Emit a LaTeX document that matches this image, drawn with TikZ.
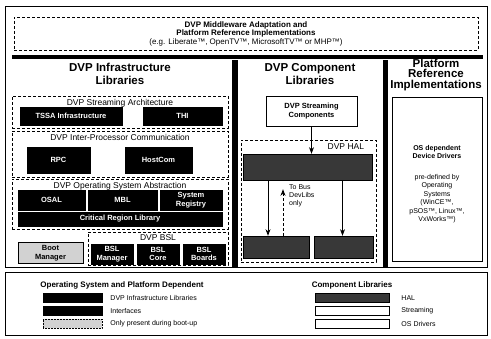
\documentclass[tikz,border=0pt]{standalone}
\usepackage{fontspec}
\setsansfont{Liberation Sans}
\usepackage{xcolor}
\definecolor{halgray}{HTML}{383838}
\definecolor{bootgray}{HTML}{D2D2D2}
\usepackage{tikz}
\usetikzlibrary{arrows.meta, positioning, calc}

\begin{document}
\begin{tikzpicture}[>=Stealth, x=1pt, y=-1pt,
  frame/.style={draw, line width=1pt, inner sep=0pt},
  group/.style={draw, densely dashed, line width=0.5pt, inner sep=0pt},
  infra/.style={draw, fill=black, text=white, inner sep=0pt, align=center,
        font=\sffamily\bfseries\fontsize{7.5}{8.5}\selectfont},
  halpart/.style={draw, fill=halgray, inner sep=0pt},
  bar/.style={fill=black, inner sep=0pt},
  coltitle/.style={align=center, inner sep=0pt,
        font=\sffamily\bfseries\fontsize{11.5}{13}\selectfont},
  grplabel/.style={inner sep=0pt, font=\sffamily\fontsize{8.5}{9}\selectfont},
  keybox/.style={draw, line width=0.5pt, minimum height=9pt, inner sep=0pt},
  keytext/.style={anchor=west, inner sep=0pt, font=\sffamily\fontsize{7}{8}\selectfont},
  keyhead/.style={inner sep=0pt, font=\sffamily\bfseries\fontsize{8}{9}\selectfont}]

  \useasboundingbox (0,0) rectangle (491,339);

  % outer frame and middleware layer
  \node[frame, minimum width=482pt, minimum height=261pt] (main) at (246,137.5) {};
  \node[group, minimum width=464pt, minimum height=33pt, align=center,
        font=\sffamily\bfseries\fontsize{8}{8.5}\selectfont] (mw) at (246,33.5)
        {DVP Middleware Adaptation and\\Platform Reference Implementations\\
         {\mdseries (e.g. Liberate™, OpenTV™, MicrosoftTV™ or MHP™)}};
  \node[bar, minimum width=471pt, minimum height=4pt] (topbar) at (247.5,57) {};
  \node[bar, minimum width=6pt, minimum height=208pt] (sepleft) at (234.5,164) {};
  \node[bar, minimum width=5pt, minimum height=208pt] (sepright) at (385.5,164) {};

  % infrastructure libraries
  \node[coltitle] (infratitle) at (120,74) {DVP Infrastructure\\Libraries};

  \node[group, minimum width=216pt, minimum height=32pt] (sa) at (120,112) {};
  \node[grplabel, below=3.5pt of sa.north] (salabel) {DVP Streaming Architecture};
  \node[infra, minimum width=102pt, minimum height=18pt] (tssa) at (71,116) {TSSA Infrastructure};
  \node[infra, minimum width=79pt, minimum height=18pt] (thi) at (182.5,116) {THI};

  \node[group, minimum width=216pt, minimum height=46pt] (ipc) at (120,154) {};
  \node[grplabel, below=3.5pt of ipc.north] (ipclabel) {DVP Inter-Processor Communication};
  \node[infra, minimum width=63pt, minimum height=26pt] (rpc) at (58.5,160) {RPC};
  \node[infra, minimum width=67pt, minimum height=26pt] (hostcom) at (158.5,160) {HostCom};

  \node[group, minimum width=216pt, minimum height=50pt] (osa) at (120,204) {};
  \node[grplabel, below=3.5pt of osa.north] (osalabel) {DVP Operating System Abstraction};
  \node[infra, minimum width=67pt, minimum height=20pt] (osal) at (51.5,200) {OSAL};
  \node[infra, minimum width=69pt, minimum height=20pt] (mbl) at (122.5,200) {MBL};
  \node[infra, minimum width=62pt, minimum height=20pt] (sysreg) at (191,200) {System\\Registry};
  \node[infra, minimum width=204pt, minimum height=14pt] (crl) at (120,219) {Critical Region Library};

  \node[group, minimum width=140pt, minimum height=33pt] (bsl) at (158,248.5) {};
  \node[grplabel, below=3pt of bsl.north] (bsllabel) {DVP BSL};
  \node[infra, minimum width=42pt, minimum height=20pt] (bslman) at (112,254) {BSL\\Manager};
  \node[infra, minimum width=42pt, minimum height=20pt] (bslcore) at (158,254) {BSL\\Core};
  \node[infra, minimum width=42pt, minimum height=20pt] (bslboards) at (204,254) {BSL\\Boards};

  \node[draw, fill=bootgray, line width=0.7pt, minimum width=65pt, minimum height=21pt,
        inner sep=0pt, align=center, font=\sffamily\bfseries\fontsize{7.5}{8.5}\selectfont]
        (boot) at (50.5,253) {Boot\\Manager};

  % component libraries
  \node[coltitle] (comptitle) at (310,74) {DVP Component\\Libraries};
  \node[draw, line width=0.5pt, minimum width=91pt, minimum height=30pt, inner sep=0pt,
        align=center, font=\sffamily\bfseries\fontsize{7.5}{8.5}\selectfont]
        (strm) at (311.5,111) {DVP Streaming\\Components};
  \node[group, minimum width=135pt, minimum height=122pt] (hal) at (308.5,201) {};
  \node[grplabel, below left=4pt and 12pt of hal.north east] (hallabel) {DVP HAL};
  \node[halpart, minimum width=129pt, minimum height=26pt] (halbar) at (308,167) {};
  \node[halpart, minimum width=66pt, minimum height=22pt] (devleft) at (276,247) {};
  \node[halpart, minimum width=59pt, minimum height=22pt] (devright) at (343.5,247) {};

  \draw[->, thick] (strm.south) -- (strm.south |- halbar.north);
  \draw[->, thick] ([xshift=-8pt]devleft.north |- halbar.south) -- ([xshift=-8pt]devleft.north);
  \draw[->, thick] ([xshift=-1pt]devright.north |- halbar.south) -- ([xshift=-1pt]devright.north);
  \draw[->, thick, densely dashed, shorten >=9pt]
    ([xshift=7pt]devleft.north) -- ([xshift=7pt]devleft.north |- halbar.south);
  \node[anchor=west, align=left, inner sep=0pt,
        font=\sffamily\fontsize{7}{8}\selectfont] (busnote) at (289,196)
        {To Bus\\DevLibs\\only};

  % platform reference implementations
  \node[coltitle, font=\sffamily\bfseries\fontsize{11.5}{10.5}\selectfont]
        (plattitle) at (436,75) {Platform\\Reference\\Implementations};
  \node[draw, line width=0.6pt, minimum width=90pt, minimum height=164pt] (osdrv) at (437,179) {};
  \node[align=center, inner sep=0pt, font=\sffamily\bfseries\fontsize{7}{8}\selectfont]
        (osdep) at (437,152) {OS dependent\\Device Drivers};
  \node[align=center, inner sep=0pt, below=15pt of osdep,
        font=\sffamily\fontsize{7}{8.5}\selectfont]
        (predef) {pre-defined by\\Operating\\Systems\\(WinCE™,\\pSOS™, Linux™,\\VxWorks™)};

  % key
  \node[frame, minimum width=482pt, minimum height=63pt] (legend) at (246,304) {};
  \node[keyhead] (oshead) at (122,285) {Operating System and Platform Dependent};
  \node[keybox, fill=black, minimum width=59pt] (keyinfra) at (72.5,298) {};
  \node[keybox, fill=black, minimum width=59pt, below=3.5pt of keyinfra] (keyif) {};
  \node[keybox, fill=bootgray, densely dotted, minimum width=59pt, below=3.5pt of keyif] (keyboot) {};
  \node[keytext, right=8pt of keyinfra] (txtinfra) {DVP Infrastructure Libraries};
  \node[keytext, right=8pt of keyif] (txtif) {Interfaces};
  \node[keytext, right=8pt of keyboot] (txtboot) {Only present during boot-up};

  \node[keyhead] (comphead) at (352,285) {Component Libraries};
  \node[keybox, fill=halgray, minimum width=74pt] (keyhal) at (352,298) {};
  \node[keybox, fill=white, minimum width=74pt, below=3.5pt of keyhal] (keystrm) {};
  \node[keybox, fill=white, minimum width=74pt, below=3.5pt of keystrm] (keyosd) {};
  \node[keytext, right=12pt of keyhal] (txthal) {HAL};
  \node[keytext, right=12pt of keystrm] (txtstrm) {Streaming};
  \node[keytext, right=12pt of keyosd] (txtosd) {OS Drivers};
\end{tikzpicture}
\end{document}
